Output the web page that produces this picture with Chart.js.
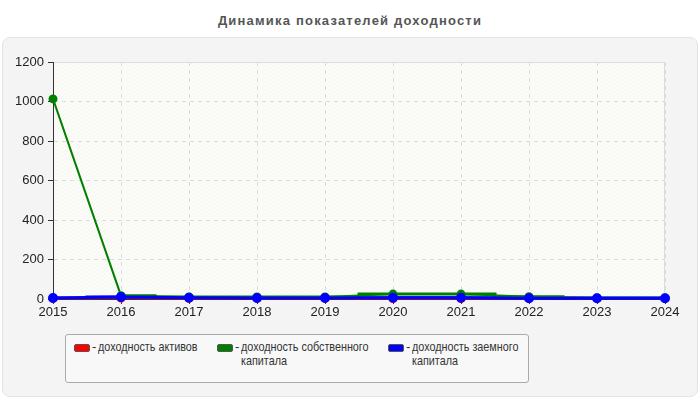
<!DOCTYPE html>
<html>
<head>
<meta charset="utf-8">
<script src="https://cdn.jsdelivr.net/npm/chart.js@4"></script>
<style>
  html, body { margin: 0; padding: 0; background: #fff; }
  body { width: 700px; height: 400px; position: relative; overflow: hidden; font-family: "Liberation Sans", Arial, sans-serif; }
  .title { position: absolute; top: 13px; left: 0; width: 700px; text-align: center; font-weight: bold; font-size: 13px; letter-spacing: 1.2px; color: #555; }
  .panel { position: absolute; left: 2px; top: 37px; width: 694px; height: 358px; background: #f4f4f4; border: 1px solid #e3e3e3; border-radius: 8px; }
  #wrap { position: absolute; left: 0; top: 0; width: 700px; height: 400px; }
  .legend { position: absolute; left: 65px; top: 334px; width: 462px; height: 47px; background: #f8f8f8; border: 1px solid #aaa; border-radius: 3px; }
  .item { position: absolute; top: 5px; font-size: 13px; line-height: 14px; color: #333; }
  .sw { position: absolute; top: 4px; left: 0; width: 14px; height: 6px; border: 1px solid #555; border-radius: 2px; }
  .dash { position: absolute; left: 18px; top: 0; }
  .txt { position: absolute; left: 24px; top: 0; white-space: nowrap; transform: scaleX(0.83); transform-origin: left top; }
</style>
</head>
<body>
<div class="title">Динамика показателей доходности</div>
<div class="panel"></div>
<div id="wrap"><canvas id="myChart" width="700" height="400"></canvas></div>
<div class="legend" id="legend"></div>
<script>
const years = ['2015', '2016', '2017', '2018', '2019', '2020', '2021', '2022', '2023', '2024'];
const assetsReturn = [3, 5, 3, 3, 3, 2, 2, 3, 3, 3];
const equityReturn = [1013, 17, 10, 10, 10, 25, 25, 12, 5, 5];
const debtReturn = [5, 10, 6, 5, 5, 6, 6, 4, 4, 4];
const yTicks = [0, 200, 400, 600, 800, 1000, 1200];

const seriesNames = ['доходность активов', 'доходность собственного\nкапитала', 'доходность заемного\nкапитала'];
const seriesColors = ['#ff0000', '#008000', '#0000ff'];

// the short flat pieces around the points, skipping an off-scale first value
const steps = (arr) => arr.map((v, i) => (i === 0 && v > 100 ? null : v));

const plotBg = {
  id: 'plotBg',
  beforeDraw(chart) {
    const { ctx, chartArea: a } = chart;
    ctx.save();
    ctx.fillStyle = '#fcfcf8';
    ctx.fillRect(a.left, a.top, a.right - a.left, a.bottom - a.top);
    ctx.beginPath();
    ctx.rect(a.left, a.top, a.right - a.left, a.bottom - a.top);
    ctx.clip();
    ctx.strokeStyle = 'rgba(0,0,0,0.03)';
    ctx.lineWidth = 1;
    for (let x = a.left - (a.bottom - a.top); x < a.right; x += 4) {
      ctx.beginPath();
      ctx.moveTo(x, a.bottom);
      ctx.lineTo(x + (a.bottom - a.top), a.top);
      ctx.stroke();
    }
    ctx.restore();
    ctx.save();
    ctx.strokeStyle = '#dcdcdc';
    ctx.beginPath();
    ctx.moveTo(a.left, a.top + 0.5);
    ctx.lineTo(a.right - 0.5, a.top + 0.5);
    ctx.lineTo(a.right - 0.5, a.bottom);
    ctx.stroke();
    ctx.restore();
  }
};

const lineSet = (data, i, width, order) => ({
  label: seriesNames[i],
  data: data,
  borderColor: seriesColors[i],
  backgroundColor: seriesColors[i],
  pointBackgroundColor: seriesColors[i],
  pointBorderColor: seriesColors[i],
  borderWidth: width,
  pointRadius: 3.5,
  tension: 0,
  order: order,
  clip: 6,
});

const stepSet = (data, i, order) => ({
  label: seriesNames[i] + ' step',
  data: steps(data),
  borderColor: seriesColors[i],
  borderWidth: 3,
  pointRadius: 0,
  stepped: 'middle',
  spanGaps: false,
  order: order,
});

const tickFont = { family: 'Liberation Sans', size: 13 };

new Chart(document.getElementById('myChart').getContext('2d'), {
  type: 'line',
  data: {
    labels: years,
    datasets: [
      lineSet(debtReturn, 2, 3, 0),
      lineSet(equityReturn, 1, 2, 1),
      lineSet(assetsReturn, 0, 2, 2),
      stepSet(debtReturn, 2, 3),
      stepSet(equityReturn, 1, 4),
      stepSet(assetsReturn, 0, 5),
    ],
  },
  plugins: [plotBg],
  options: {
    responsive: false,
    animation: false,
    layout: { padding: { top: 62, right: 35, left: 0, bottom: 0 } },
    plugins: { legend: { display: false }, tooltip: { enabled: false } },
    scales: {
      x: {
        offset: false,
        afterFit: (s) => { s.height = 101; },
        grid: { color: '#dddddd', tickColor: '#333', tickLength: 5, tickBorderDash: [] },
        border: { color: '#333', width: 1, dash: [4, 4] },
        ticks: { color: '#222', font: tickFont, padding: 1, maxRotation: 0, autoSkip: false },
      },
      y: {
        min: 0,
        max: 1200,
        afterFit: (s) => { s.width = 53; },
        afterBuildTicks: (s) => { s.ticks = yTicks.map((v) => ({ value: v })); },
        grid: { color: '#dddddd', tickColor: '#333', tickLength: 5, tickBorderDash: [] },
        border: { color: '#333', width: 1, dash: [4, 4] },
        ticks: { color: '#222', font: tickFont, padding: 4, callback: (v) => String(v) },
      },
    },
  },
});

// html legend, since labels wrap onto two lines
const legendPos = [8, 151, 322];
const legend = document.getElementById('legend');
seriesNames.forEach((name, i) => {
  const item = document.createElement('div');
  item.className = 'item';
  item.style.left = legendPos[i] + 'px';
  const sw = document.createElement('div');
  sw.className = 'sw';
  sw.style.background = seriesColors[i];
  const dash = document.createElement('div');
  dash.className = 'dash';
  dash.textContent = '-';
  const txt = document.createElement('div');
  txt.className = 'txt';
  txt.innerHTML = name.split('\n').join('<br>');
  item.appendChild(sw);
  item.appendChild(dash);
  item.appendChild(txt);
  legend.appendChild(item);
});
</script>
</body>
</html>
